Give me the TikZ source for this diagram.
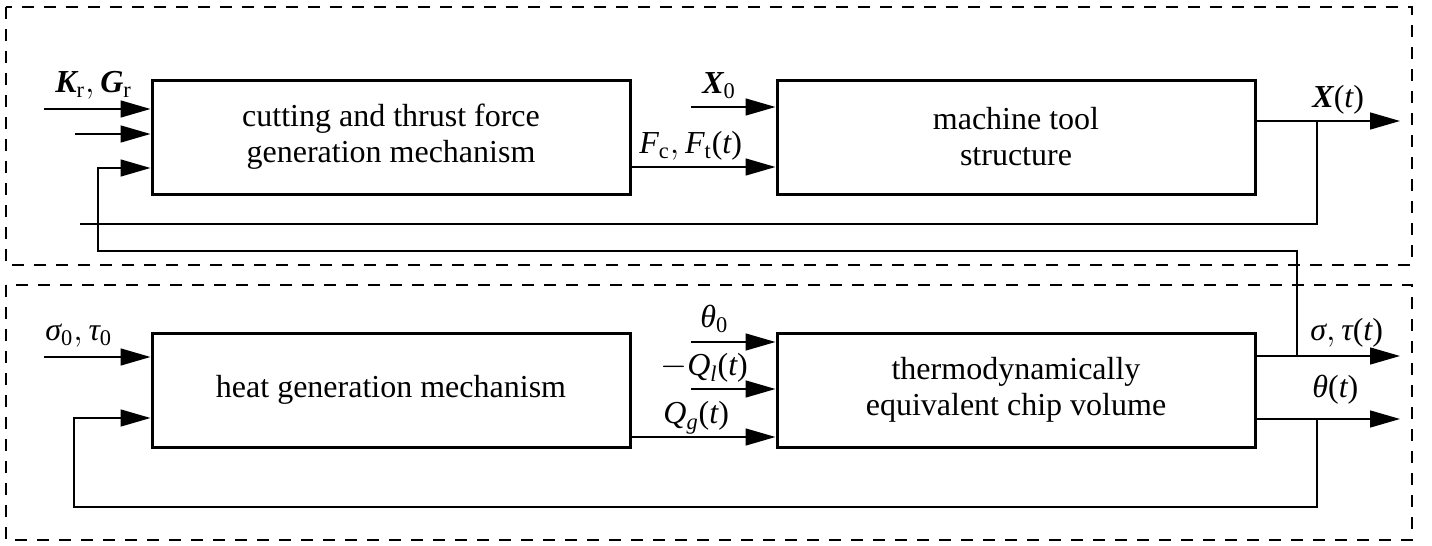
\documentclass[tikz,border=0pt]{standalone}
\usepackage{amsmath}
\usepackage{fontspec}
\setmainfont{Liberation Serif}
\usetikzlibrary{positioning,arrows.meta}
% italic and bold italic letters in the text font
\newcommand{\vi}[1]{\text{\itshape #1}}
\newcommand{\vb}[1]{\text{\bfseries\itshape #1}}

\begin{document}
\begin{tikzpicture}[x=0.5pt, y=-0.5pt,
    every node/.style={font=\fontsize{16}{18}\selectfont},
    block/.style={draw, line width=1.5pt, minimum width=239pt, minimum height=57pt,
      align=center, inner sep=0pt},
    sig/.style={line width=0.75pt, -{Triangle[length=15pt,width=8.5pt]}},
    wire/.style={line width=0.75pt},
    frame/.style={line width=0.8pt, dash pattern=on 6pt off 5pt},
    lbl/.style={anchor=base west, inner sep=0pt}]
  \useasboundingbox (0,0) rectangle (1432,546);

  % dashed frames
  \draw[frame] (6,7) rectangle (1412,265);
  \draw[frame] (6,285) rectangle (1412,540);

  % blocks
  \node[block] (force) at (391,137) {cutting and thrust force\\generation mechanism};
  \node[block] (mts) at (1016,137) {machine tool\\structure};
  \node[block] (heat) at (391,390) {heat generation mechanism};
  \node[block] (chip) at (1016,390) {thermodynamically\\equivalent chip volume};

  % free ends and taps
  \coordinate (kin) at (44,109);
  \coordinate (kin2) at (75,134);
  \coordinate (fb1) at (98,168);
  \coordinate (fb1b) at (98,251);
  \coordinate (x0in) at (691,107);
  \coordinate (fcy) at (700,167);
  \coordinate (xout) at (1400,121);
  \coordinate (xtap) at (1317,121);
  \coordinate (xend) at (80,224);
  \coordinate (sin) at (44,357);
  \coordinate (fb2) at (74,418);
  \coordinate (fb2b) at (74,507);
  \coordinate (th0in) at (691,342);
  \coordinate (qlin) at (691,389);
  \coordinate (qgy) at (700,437);
  \coordinate (sout) at (1400,356);
  \coordinate (stap) at (1297,356);
  \coordinate (thout) at (1400,419);
  \coordinate (thtap) at (1317,419);

  % top loop
  \draw[sig] (kin) -- (kin -| force.west);
  \draw[sig] (kin2) -- (kin2 -| force.west);
  \draw[sig] (stap) |- (fb1b) -- (fb1) -- (fb1 -| force.west);
  \draw[sig] (x0in) -- (x0in -| mts.west);
  \draw[sig] (force.east |- fcy) -- (mts.west |- fcy);
  \draw[sig] (mts.east |- xout) -- (xout);
  \draw[wire] (xtap) |- (xend);

  % bottom loop
  \draw[sig] (sin) -- (sin -| heat.west);
  \draw[sig] (thtap) |- (fb2b) -- (fb2) -- (fb2 -| heat.west);
  \draw[sig] (th0in) -- (th0in -| chip.west);
  \draw[sig] (qlin) -- (qlin -| chip.west);
  \draw[sig] (heat.east |- qgy) -- (chip.west |- qgy);
  \draw[sig] (chip.east |- sout) -- (sout);
  \draw[sig] (chip.east |- thout) -- (thout);

  % signal labels
  \node[lbl] (lkg) at (55,92) {$\vb{K}_{\text{r}}, \vb{G}_{\text{r}}$};
  \node[lbl] (lx0) at (702,93) {$\vb{X}_{\text{0}}$};
  \node[lbl] (lfc) at (639,153) {$\vi{F}_{\text{c}}, \vi{F}_{\text{t}}\text{(}\vi{t}\text{)}$};
  \node[lbl] (lxt) at (1312,107) {$\vb{X}\text{(}\vi{t}\text{)}$};
  \node[lbl] (lst0) at (45,340) {$\vi{σ}_{\text{0}},\vi{τ}_{\text{0}}$};
  \node[lbl] (lth0) at (700,327) {$\vi{θ}_{\text{0}}$};
  \node[lbl] (lql) at (660,375) {$-\vi{Q}_{\vi{l}}\text{(}\vi{t}\text{)}$};
  \node[lbl] (lqg) at (663,423) {$\vi{Q}_{\vi{g}}\text{(}\vi{t}\text{)}$};
  \node[lbl] (lst) at (1310,340) {$\vi{σ},\vi{τ}\text{(}\vi{t}\text{)}$};
  \node[lbl] (lth) at (1312,397) {$\vi{θ}\text{(}\vi{t}\text{)}$};
\end{tikzpicture}
\end{document}
